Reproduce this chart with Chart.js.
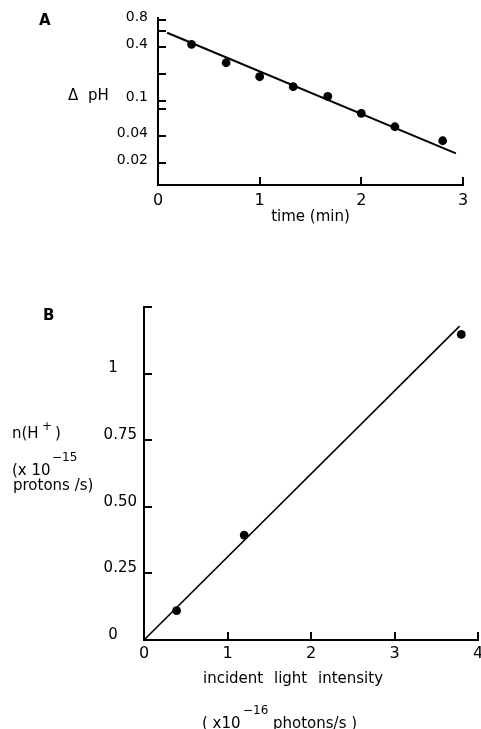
<!DOCTYPE html>
<html lang="en">
<head>
<meta charset="UTF-8">
<title>ΔpH decay and proton flux</title>
<style>
  html, body { margin: 0; padding: 0; background: #fff; overflow: hidden; width: 481px; height: 729px; }
  .wrap { position: relative; width: 481px; height: 729px; overflow: hidden; }
  canvas { position: absolute; left: 0; }
  #chartA { top: 0; }
  #chartB { top: 280px; }
  .lbl { position: absolute; font-family: 'DejaVu Sans', sans-serif; font-size: 15px; line-height: 1; white-space: pre; color: #000; }
  .panel { font-weight: bold; font-size: 15px; }
  .small { font-size: 12px; }
</style>
</head>
<body>
<div class="wrap">
  <canvas id="chartA" width="500" height="232"></canvas>
  <canvas id="chartB" width="500" height="449"></canvas>

  <div class="lbl panel" style="left:39px; top:13px;">A</div>
  <div class="lbl" style="left:68px; top:88px; word-spacing:5px;">Δ pH</div>

  <div class="lbl panel" style="left:43px; top:308px;">B</div>
  <div class="lbl" style="left:12px; top:426px;">n(H</div>
  <div class="lbl small" style="left:42px; top:420px;">+</div>
  <div class="lbl" style="left:55px; top:426px;">)</div>
  <div class="lbl" style="left:12px; top:463px;">(x 10</div>
  <div class="lbl small" style="left:52px; top:451px;">−15</div>
  <div class="lbl" style="left:13px; top:478px;">protons /s)</div>

  <div class="lbl" style="left:203px; top:671px; word-spacing:6px;">incident light intensity</div>
  <div class="lbl" style="left:202px; top:716px;">( x10</div>
  <div class="lbl small" style="left:243px; top:704px;">−16</div>
  <div class="lbl" style="left:273px; top:716px;">photons/s )</div>
</div>

<script src="https://cdn.jsdelivr.net/npm/chart.js"></script>
<script>
  // panel A: decay of ΔpH with time (log axis)
  const timeA = [0.33, 0.67, 1.0, 1.33, 1.67, 2.0, 2.33, 2.8];
  const dpHA = [0.43, 0.267, 0.186, 0.144, 0.112, 0.072, 0.051, 0.0355];
  const fitTimeA = [0.09, 2.93];
  const fitDpHA = [0.58, 0.0256];
  const xTicksA = [0, 1, 2, 3];
  const yTicksA = [0.02, 0.04, 0.08, 0.1, 0.2, 0.4, 0.6, 0.8];
  const yTickLabelsA = ['0.02', '0.04', '', '0.1', '', '0.4', '', '0.8'];

  // panel B: proton flux vs incident light
  const intensityB = [0.39, 1.2, 3.8];
  const protonsB = [0.11, 0.394, 1.147];
  const fitIntensityB = [0, 3.78];
  const fitProtonsB = [0, 1.178];
  const xTicksB = [0, 1, 2, 3, 4];
  const yTicksB = [0, 0.25, 0.5, 0.75, 1, 1.25];
  const yTickLabelsB = ['0\u2007\u2007', '0.25', '0.50', '0.75', '1\u2007\u2007', ''];

  const ink = '#000';
  const family = "'DejaVu Sans', sans-serif";

  const pts = (xs, ys) => xs.map((x, i) => ({ x: x, y: ys[i] }));

  function datasets(xs, ys, fx, fy, lineW) {
    return [
      { data: pts(xs, ys), showLine: false, pointRadius: 4.4, pointBackgroundColor: ink,
        pointBorderWidth: 0, clip: false },
      { data: pts(fx, fy), showLine: true, pointRadius: 0, borderColor: ink,
        borderWidth: lineW, clip: false }
    ];
  }

  // ticks point inward (negative length); label paddings must not grow the layout
  function axis(tickVals, labels, size, pad, offset, box, extra) {
    return Object.assign({
      afterBuildTicks: s => { s.ticks = tickVals.map(v => ({ value: v })); },
      afterFit: s => {
        if (s.isHorizontal()) s.height = box; else s.width = box;
        s.paddingTop = 0; s.paddingBottom = 0; s.paddingLeft = 0; s.paddingRight = 0;
      },
      grid: { drawOnChartArea: false, tickLength: -8, color: ink, lineWidth: 2 },
      border: { display: true, color: ink, width: 2 },
      ticks: { autoSkip: false, maxRotation: 0, padding: pad, color: ink, labelOffset: offset,
               font: { family: family, size: size },
               callback: labels ? (v, i) => labels[i] : (v => v) }
    }, extra);
  }

  const baseOpts = {
    responsive: false,
    animation: false,
    plugins: { legend: { display: false }, tooltip: { enabled: false } }
  };

  new Chart(document.getElementById('chartA'), {
    type: 'scatter',
    data: { datasets: datasets(timeA, dpHA, fitTimeA, fitDpHA, 2) },
    options: Object.assign({}, baseOpts, {
      layout: { padding: { top: 18, right: 37, bottom: 0, left: 0 } },
      scales: {
        x: axis(xTicksA, null, 16, 14, 0, 47, {
          type: 'linear', min: 0, max: 3,
          title: { display: true, text: 'time (min)', color: ink,
                   font: { family: family, size: 15 }, padding: { top: 0, bottom: 6 } }
        }),
        y: axis(yTicksA, yTickLabelsA, 14, 18, -3, 158, {
          type: 'logarithmic', min: 0.0113, max: 0.85
        })
      }
    })
  });

  new Chart(document.getElementById('chartB'), {
    type: 'scatter',
    data: { datasets: datasets(intensityB, protonsB, fitIntensityB, fitProtonsB, 1.6) },
    options: Object.assign({}, baseOpts, {
      layout: { padding: { top: 27, right: 22, bottom: 0, left: 0 } },
      scales: {
        x: axis(xTicksB, null, 16, 12, 0, 89, {
          type: 'linear', min: 0, max: 4
        }),
        y: axis(yTicksB, yTickLabelsB, 15, 15, -5, 144, {
          type: 'linear', min: 0, max: 1.25
        })
      }
    })
  });
</script>
</body>
</html>
